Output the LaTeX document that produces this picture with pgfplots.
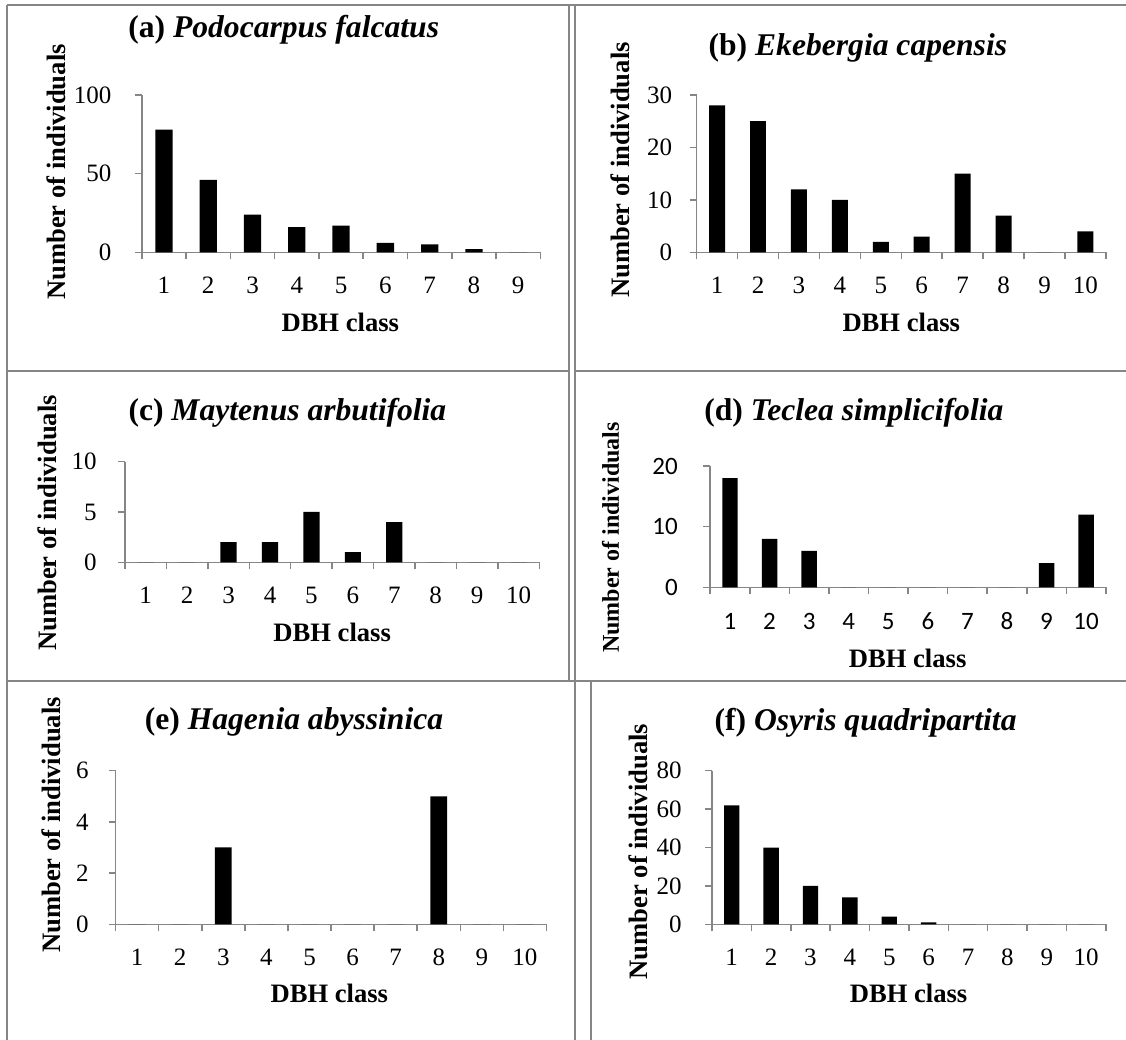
\documentclass[border=0pt]{standalone}
\usepackage{pgfplots}
\pgfplotsset{compat=1.18}
\usepackage{fontspec}
\setmainfont{Liberation Serif}
\newfontfamily\carlito{Carlito}
\definecolor{axgray}{RGB}{134,134,134}
\definecolor{framegray}{RGB}{134,134,134}

\pgfplotsset{
  dbh/.style={
    scale only axis,
    anchor=south west,
    ybar, bar width=0.39,
    axis x line*=bottom, axis y line*=left,
    axis line style={axgray, line width=0.75pt},
    ymin=0, xmin=0.5,
    tick align=outside,
    major tick length=3.5pt,
    tick style={axgray, line width=0.75pt},
    xticklabels={},
    extra x tick style={major tick length=0pt, tick style={draw=none}},
    /pgf/number format/assume math mode=true,
    ticklabel style={font=\fontsize{12.5}{14}\selectfont},
    yticklabel style={inner sep=0pt, anchor=east},
    xticklabel style={inner sep=0pt, anchor=north, text height=8.3pt, yshift=-12.3pt},
    label style={font=\fontsize{13.3}{15}\selectfont\bfseries},
    xlabel style={anchor=base, inner sep=0pt},
    ylabel style={anchor=base, inner sep=0pt},
    xlabel={DBH class},
    ylabel={Number of individuals},
    clip=false,
  },
  ptitle/.style n args={3}{
    after end axis/.append code={
      \node[font=\fontsize{15.8}{18}\selectfont\bfseries, anchor=base, inner sep=0pt]
        at (axis description cs:#1,#2) {#3};
    },
  },
  ten/.style={
    xmax=10.5,
    xtick={0.5,1.5,...,10.5},
    extra x ticks={1,2,3,4,5,6,7,8,9,10},
    extra x tick labels={1,2,3,4,5,6,7,8,9,10},
  },
  nine/.style={
    xmax=9.5,
    xtick={0.5,1.5,...,9.5},
    extra x ticks={1,2,3,4,5,6,7,8,9},
    extra x tick labels={1,2,3,4,5,6,7,8,9},
  },
}

\begin{document}
\begin{tikzpicture}
\useasboundingbox (0pt,0pt) rectangle (563pt,520pt);

% panel frame lines
\begin{scope}[framegray, line width=1pt]
\draw (3.5pt,517.5pt) -- (563pt,517.5pt);
\draw (3.5pt,517.5pt) -- (3.5pt,0pt);
\draw (284.5pt,517.5pt) -- (284.5pt,179.5pt);
\draw (287.5pt,517.5pt) -- (287.5pt,0pt);
\draw (295.5pt,179.5pt) -- (295.5pt,0pt);
\draw (3.5pt,334.5pt) -- (284.5pt,334.5pt);
\draw (287.5pt,334.5pt) -- (563pt,334.5pt);
\draw (3.5pt,179.5pt) -- (563pt,179.5pt);
\end{scope}

% (a)
\begin{axis}[dbh, nine,
  at={(70.9pt,393.85pt)}, width=199.3pt, height=78.65pt,
  ymax=100, ytick={0,50,100},
  yticklabel style={xshift=-11.5pt},
  ptitle={0.356}{1.367}{(a) \textit{Podocarpus falcatus}},
  xlabel style={at={(axis description cs:0.498,-0.505)}},
  ylabel style={at={(axis description cs:-0.191,0.510)}},
]
\addplot[fill=black, draw=none] coordinates {(1,78) (2,46) (3,24) (4,16) (5,17) (6,6) (7,5) (8,2) (9,0)};
\end{axis}

% (b)
\begin{axis}[dbh, ten,
  at={(348.3pt,393.85pt)}, width=204.65pt, height=78.65pt,
  ymax=30, ytick={0,10,20,30},
  yticklabel style={xshift=-8.5pt},
  ptitle={0.394}{1.254}{(b) \textit{Ekebergia capensis}},
  xlabel style={at={(axis description cs:0.500,-0.505)}},
  ylabel style={at={(axis description cs:-0.164,0.523)}},
]
\addplot[fill=black, draw=none] coordinates {(1,28) (2,25) (3,12) (4,10) (5,2) (6,3) (7,15) (8,7) (9,0) (10,4)};
\end{axis}

% (c)
\begin{axis}[dbh, ten,
  at={(62.5pt,238.85pt)}, width=207.15pt, height=50.3pt,
  ymax=10, ytick={0,5,10},
  yticklabel style={xshift=-10.5pt},
  ptitle={0.392}{1.405}{(c) \textit{Maytenus arbutifolia}},
  xlabel style={at={(axis description cs:0.500,-0.789)}},
  ylabel style={at={(axis description cs:-0.165,0.391)}},
]
\addplot[fill=black, draw=none] coordinates {(1,0) (2,0) (3,2) (4,2) (5,5) (6,1) (7,4) (8,0) (9,0) (10,0)};
\end{axis}

% (d)
\begin{axis}[dbh, ten,
  at={(355.1pt,226.35pt)}, width=197.85pt, height=60.65pt,
  ymax=20, ytick={0,10,20},
  ticklabel style={font=\carlito\fontsize{12.5}{14}\selectfont},
  yticklabel style={xshift=-12.5pt},
  xticklabel style={text height=7.8pt, yshift=-1pt},
  ptitle={0.363}{1.379}{(d) \textit{Teclea simplicifolia}},
  xlabel style={at={(axis description cs:0.499,-0.665)}},
  ylabel style={at={(axis description cs:-0.231,0.411)}, font=\fontsize{12}{14}\selectfont\bfseries},
]
\addplot[fill=black, draw=none] coordinates {(1,18) (2,8) (3,6) (4,0) (5,0) (6,0) (7,0) (8,0) (9,4) (10,12)};
\end{axis}

% (e)
\begin{axis}[dbh, ten,
  at={(57.8pt,57.85pt)}, width=215.45pt, height=76.8pt,
  ymax=6, ytick={0,2,4,6},
  yticklabel style={xshift=-9.8pt},
  ptitle={0.414}{1.265}{(e) \textit{Hagenia abyssinica}},
  xlabel style={at={(axis description cs:0.496,-0.512)}},
  ylabel style={at={(axis description cs:-0.127,0.647)}},
]
\addplot[fill=black, draw=none] coordinates {(1,0) (2,0) (3,3) (4,0) (5,0) (6,0) (7,0) (8,5) (9,0) (10,0)};
\end{axis}

% (f)
\begin{axis}[dbh, ten,
  at={(356pt,57.85pt)}, width=196.95pt, height=76.8pt,
  ymax=80, ytick={0,20,40,60,80},
  yticklabel style={xshift=-11.5pt},
  ptitle={0.390}{1.265}{(f) \textit{Osyris quadripartita}},
  xlabel style={at={(axis description cs:0.499,-0.512)}},
  ylabel style={at={(axis description cs:-0.164,0.473)}},
]
\addplot[fill=black, draw=none] coordinates {(1,62) (2,40) (3,20) (4,14) (5,4) (6,1) (7,0) (8,0) (9,0) (10,0)};
\end{axis}
\end{tikzpicture}
\end{document}
